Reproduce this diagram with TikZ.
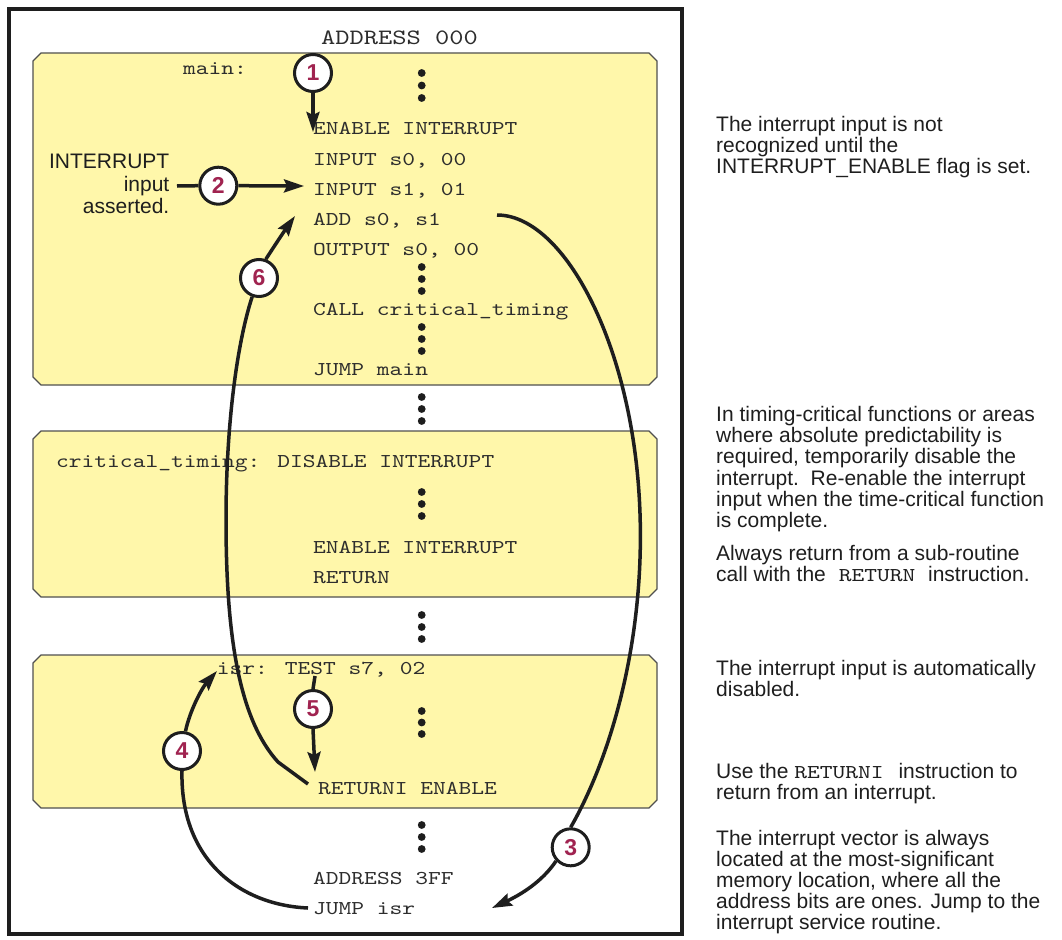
\documentclass[tikz,border=0pt]{standalone}
\usepackage{fontspec}
\setmainfont{Liberation Sans}
\newfontfamily\codefont{lmmono10-regular.otf}[FakeStretch=1.24]
\usetikzlibrary{arrows.meta}
\definecolor{boxyellow}{RGB}{255,247,170}
\definecolor{boxedge}{RGB}{80,80,80}
\definecolor{numred}{RGB}{160,35,80}
\definecolor{codegray}{RGB}{45,45,45}
\definecolor{inkblack}{RGB}{30,30,30}
\begin{document}
\begin{tikzpicture}[x=1pt,y=-1pt,
 code/.style={anchor=base west, inner sep=0pt, text=codegray, font=\codefont\fontsize{19.6}{19.6}\selectfont},
 bigcode/.style={code, font=\codefont\fontsize{21.9}{21.9}\selectfont},
 note/.style={anchor=base west, inner sep=0pt, text=inkblack, font=\fontsize{21}{21}\selectfont},
 lbl/.style={anchor=base east, inner sep=0pt, text=inkblack, font=\fontsize{21}{21}\selectfont},
 num/.style={circle, draw=inkblack, line width=3pt, fill=white, minimum size=37pt, inner sep=0pt, text=numred, font=\bfseries\fontsize{23}{23}\selectfont},
 conn/.style={draw=inkblack, line width=3.5pt},
 arr/.style={conn, -{Stealth[length=20pt,width=13pt,inset=3pt]}},
 membox/.style={draw=boxedge, line width=1.2pt, fill=boxyellow},
 dotc/.style={fill=inkblack}
]
\useasboundingbox (0,0) rectangle (1062,939);
% outer frame
\draw[line width=3.5pt, draw=inkblack] (9,9) rectangle (682,934);
% memory boxes (chamfered)
\path[membox] (41,53) -- (649,53) -- (657,61) -- (657,377) -- (649,385) -- (41,385) -- (33,377) -- (33,61) -- cycle;
\path[membox] (41,431) -- (649,431) -- (657,439) -- (657,589) -- (649,597) -- (41,597) -- (33,589) -- (33,439) -- cycle;
\path[membox] (41,655) -- (649,655) -- (657,663) -- (657,800) -- (649,808) -- (41,808) -- (33,800) -- (33,663) -- cycle;
% dots
\foreach \yy in {73,85.5,98, 267,279,291, 327,339,351, 397,409,421, 492,504,516, 615,627,639, 711,722.5,734, 825,837,849}
  \fill[dotc] (421.7,\yy) circle (3.9);
% code texts
\node[bigcode] (addr0) at (321,45) {ADDRESS 000};
\node[code] (mainlbl) at (183,75) {main:};
\node[code] (en1) at (313,135) {ENABLE INTERRUPT};
\node[code] (in0) at (313,165) {INPUT s0, 00};
\node[code] (in1) at (313,195) {INPUT s1, 01};
\node[code] (addl) at (313,225.5) {ADD s0, s1};
\node[code] (outl) at (313,255.5) {OUTPUT s0, 00};
\node[code] (calll) at (313,315.5) {CALL critical\_timing};
\node[code] (jmain) at (313,375.5) {JUMP main};
\node[code] (crit) at (56,467.5) {critical\_timing: DISABLE INTERRUPT};
\node[code] (en2) at (313,553) {ENABLE INTERRUPT};
\node[code] (ret) at (313,583) {RETURN};
\node[code] (isrl) at (216.7,674) {isr: TEST s7, 02};
\node[code] (reti) at (318,794) {RETURNI ENABLE};
\node[code] (addr3) at (313,884) {ADDRESS 3FF};
\node[code] (jisr) at (313,914) {JUMP isr};
% left label
\node[lbl] (lb1) at (169.5,168) {INTERRUPT};
\node[lbl] (lb2) at (169.5,191) {input};
\node[lbl] (lb3) at (169.5,213) {asserted.};
% right notes
\node[note] (n1a) at (716,131.5) {The interrupt input is not};
\node[note] (n1b) at (716,152.5) {recognized until the};
\node[note] (n1c) at (716,173) {INTERRUPT\_ENABLE flag is set.};
\node[note] (n2a) at (716,421) {In timing-critical functions or areas};
\node[note] (n2b) at (716,442.3) {where absolute predictability is};
\node[note] (n2c) at (716,463.6) {required, temporarily disable the};
\node[note] (n2d) at (716,485) {interrupt.\ \ Re-enable the interrupt};
\node[note] (n2e) at (716,506.3) {input when the time-critical function};
\node[note] (n2f) at (716,527.6) {is complete.};
\node[note] (n3a) at (716,560) {Always return from a sub-routine};
\node[note] (n3b) at (716,581.5) {call with the\hspace{7pt} {\codefont\fontsize{19.6}{19.6}\selectfont RETURN}\hspace{7pt} instruction.};
\node[note] (n4a) at (716,675) {The interrupt input is automatically};
\node[note] (n4b) at (716,696) {disabled.};
\node[note] (n5a) at (716,778) {Use the {\codefont\fontsize{19.6}{19.6}\selectfont RETURNI}\hspace{9pt} instruction to};
\node[note] (n5b) at (716,799) {return from an interrupt.};
\node[note] (n6a) at (716,845.7) {The interrupt vector is always};
\node[note] (n6b) at (716,866.7) {located at the most-significant};
\node[note] (n6c) at (716,887.5) {memory location, where all the};
\node[note] (n6d) at (716,908.3) {address bits are ones. Jump to the};
\node[note] (n6e) at (716,929) {interrupt service routine.};
% connector end points
\coordinate (t1) at (313,132);
\coordinate (s2) at (177,186);
\coordinate (t2) at (304,186);
\coordinate (a3) at (497,215);
\coordinate (t3) at (492,908);
\coordinate (s4) at (308,908);
\coordinate (t4) at (217,671);
\coordinate (s5) at (315,676);
\coordinate (t5) at (315,772);
\coordinate (s6) at (308,784);
\coordinate (t6) at (295,216);
% numbered circles
\node[num] (c1) at (313,73) {1};
\node[num] (c2) at (218.3,185.7) {2};
\node[num] (c3) at (570.7,847.3) {3};
\node[num] (c4) at (182,751) {4};
\node[num] (c5) at (313,709) {5};
\node[num] (c6) at (259,278) {6};
% connectors
\draw[arr] (c1.south) -- (t1);
\draw[conn] (s2) -- (c2.west);
\draw[arr] (c2.east) -- (t2);
\draw[conn] (a3) .. controls (560,215) and (625,330) .. (638,480) .. controls (650,620) and (615,750) .. (c3.north);
\draw[arr] (c3.223) .. controls (542,882) and (520,895) .. (t3);
\draw[conn] (s4) .. controls (240,905) and (180,860) .. (c4.south);
\draw[arr] (c4.80) .. controls (190,710) and (202,688) .. (t4);
\draw[conn] (s5) -- (c5.north);
\draw[arr] (c5.south) -- (t5);
\draw[conn] (c6.250) .. controls (238,340) and (226,420) .. (226,520) .. controls (226,640) and (240,720) .. (278,762) -- (s6);
\draw[arr] (c6.70) .. controls (275,245) and (285,230) .. (t6);
\end{tikzpicture}
\end{document}
